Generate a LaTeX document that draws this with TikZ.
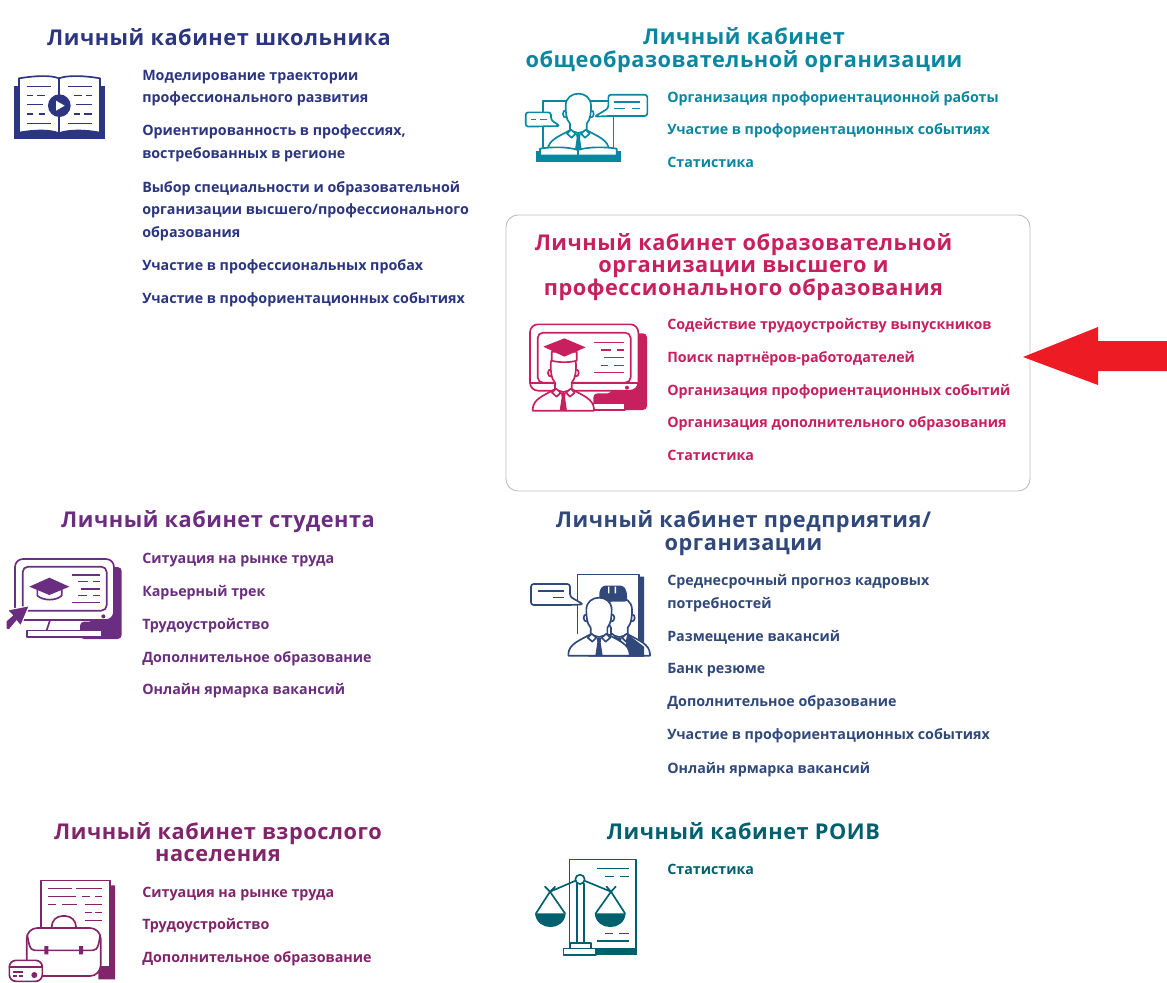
\documentclass[tikz,border=0pt]{standalone}
\usepackage{fontspec}
\setmainfont{Open Sans}[BoldFont={Open Sans Bold},ItalicFont={Open Sans Italic}]
\newfontfamily\titlefam{Open Sans}[BoldFont={Open Sans Bold},LetterSpace=2.5]
\definecolor{cnavy}{HTML}{2B3580}
\definecolor{cteal}{HTML}{0A87A0}
\definecolor{ccrim}{HTML}{C8205F}
\definecolor{cpurp}{HTML}{6B2D7F}
\definecolor{cslate}{HTML}{30497A}
\definecolor{cplum}{HTML}{82246A}
\definecolor{cdteal}{HTML}{00606E}
\definecolor{cred}{HTML}{ED1C24}
\tikzset{
  ttl/.style={align=center,inner sep=0pt,font=\titlefam\bfseries\fontsize{16.3}{16.7}\selectfont},
  itm/.style={anchor=west,align=left,inner sep=0pt,font=\bfseries\fontsize{10.7}{17}\selectfont},
  ln/.style={draw=ic,line width=1.25pt,line cap=round,line join=round},
  wf/.style={ln,fill=white},
  sf/.style={fill=ic,draw=none},
  txl/.style={draw=ic,line width=1.05pt},
  zoomed/.style={x=.25pt,y=-.25pt}
}
% person in zoom units, origin at the collar
\newcommand\personicon[2]{%
\begin{scope}[shift={(#1,#2)}]
 \path[wf] (-36,-64) .. controls (-50,-66) and (-50,-40) .. (-34,-42) -- (34,-42) .. controls (50,-40) and (50,-66) .. (36,-64) -- cycle;
 \path[wf] (-92,60) -- (-92,55) .. controls (-90,25) and (-60,15) .. (-24,-5) -- (24,-5) .. controls (60,15) and (90,25) .. (92,55) -- (92,60) -- cycle;
 \path[wf] (-25,-3) -- (-25,-24) .. controls (-37,-36) and (-38,-60) .. (-38,-78) .. controls (-38,-126) and (38,-126) .. (38,-78) .. controls (38,-60) and (37,-36) .. (25,-24) -- (25,-3) -- (0,4) -- cycle;
 \path[wf] (-22,-6) -- (-8,6) -- (-20,18) -- (-34,6) -- cycle;
 \path[wf] (22,-6) -- (8,6) -- (20,18) -- (34,6) -- cycle;
 \path[sf] (-7,6) -- (7,6) -- (5,20) -- (11,60) -- (-11,60) -- (-5,20) -- cycle;
\end{scope}}
\begin{document}
\begin{tikzpicture}[x=.75pt,y=-.75pt]
\useasboundingbox (0,0) rectangle (1167,982);
\fill[white] (0,0) rectangle (1167,982);
% framed panel and red arrow
\draw[draw=black!25,line width=.7pt,rounded corners=9pt] (506,215) rectangle (1030,491);
\fill[cred] (1023,357) -- (1098,327) -- (1098,341) -- (1167,341) -- (1167,371) -- (1098,371) -- (1098,385) -- cycle;

% ---- titles
\node[ttl,text=cnavy] (t1) at (219,37) {Личный кабинет школьника};
\node[ttl,text=cteal] (t2) at (744,50) {Личный кабинет\\общеобразовательной организации};
\node[ttl,text=ccrim] (t3) at (743.5,267) {Личный кабинет образовательной\\организации высшего и\\профессионального образования};
\node[ttl,text=cpurp] (t4) at (218,522) {Личный кабинет студента};
\node[ttl,text=cslate] (t5) at (743.5,533) {Личный кабинет предприятия/\\организации};
\node[ttl,text=cplum] (t6) at (218,842) {Личный кабинет взрослого\\населения};
\node[ttl,text=cdteal] (t7) at (743.5,831) {Личный кабинет РОИВ};

% ---- lists
\begin{scope}[every node/.append style={itm,text=cnavy}]
\node (a1) at (142,88) {Моделирование траектории\\профессионального развития};
\node (a2) at (142,143) {Ориентированность в профессиях,\\востребованных в регионе};
\node (a3) at (142,211) {Выбор специальности и образовательной\\организации высшего/профессионального\\образования};
\node (a4) at (142,267) {Участие в профессиональных пробах};
\node (a5) at (142,300) {Участие в профориентационных событиях};
\end{scope}
\begin{scope}[every node/.append style={itm,text=cteal}]
\node (b1) at (667,99) {Организация профориентационной работы};
\node (b2) at (667,131) {Участие в профориентационных событиях};
\node (b3) at (667,162) {Статистика};
\end{scope}
\begin{scope}[every node/.append style={itm,text=ccrim}]
\node (c1) at (667,326) {Содействие трудоустройству выпускников};
\node (c2) at (667,359) {Поиск партнёров-работодателей};
\node (c3) at (667,392) {Организация профориентационных событий};
\node (c4) at (667,424) {Организация дополнительного образования};
\node (c5) at (667,455) {Статистика};
\end{scope}
\begin{scope}[every node/.append style={itm,text=cpurp}]
\node (d1) at (142,560) {Ситуация на рынке труда};
\node (d2) at (142,593) {Карьерный трек};
\node (d3) at (142,626) {Трудоустройство};
\node (d4) at (142,659) {Дополнительное образование};
\node (d5) at (142,691) {Онлайн ярмарка вакансий};
\end{scope}
\begin{scope}[every node/.append style={itm,text=cslate}]
\node (e1) at (667,593) {Среднесрочный прогноз кадровых\\потребностей};
\node (e2) at (667,637) {Размещение вакансий};
\node (e3) at (667,670) {Банк резюме};
\node (e4) at (667,703) {Дополнительное образование};
\node (e5) at (667,736) {Участие в профориентационных событиях};
\node (e6) at (667,770) {Онлайн ярмарка вакансий};
\end{scope}
\begin{scope}[every node/.append style={itm,text=cplum}]
\node (f1) at (142,894) {Ситуация на рынке труда};
\node (f2) at (142,926) {Трудоустройство};
\node (f3) at (142,959) {Дополнительное образование};
\end{scope}
\node[itm,text=cdteal] (g1) at (667,869) {Статистика};

% ---- icon: book
\colorlet{ic}{cnavy}
\begin{scope}[shift={(0,60)},zoomed]
 \path[sf] (41,78) rectangle (316,238);
 \path[wf] (57,55) .. controls (100,48) and (150,44) .. (177,55) .. controls (205,44) and (260,48) .. (300,55) -- (300,218) .. controls (260,210) and (205,208) .. (177,220) .. controls (150,208) and (100,210) .. (57,218) -- cycle;
 \draw[ln] (177,55) -- (177,220);
 \foreach \a/\b/\c in {80/152/79,80/100/106,112/136/106,80/128/134,80/100/162,116/136/162,80/152/190,205/277/79,221/245/106,257/277/106,228/277/134,221/241/162,253/277/162,205/277/190}
   \draw[txl] (\a,\c) -- (\b,\c);
 \fill[ic] (178,137) circle[radius=34];
 \fill[white] (168,122) -- (168,152) -- (194,137) -- cycle;
\end{scope}

% ---- icon: teacher
\colorlet{ic}{cteal}
\begin{scope}[shift={(515,80)},zoomed]
 \draw[ln] (83,205) -- (83,63) -- (295,63) -- (295,205);
 \personicon{190}{155}
 \path[sf] (64,213) rectangle (318,247);
 \path[wf] (75,206) .. controls (110,200) and (160,200) .. (188,210) .. controls (220,200) and (270,200) .. (305,206) -- (305,226) -- (75,226) -- cycle;
 \draw[ln] (188,210) -- (188,226);
 \path[wf,rounded corners=2pt] (280,44) -- (397,44) -- (397,108) -- (280,108) -- (238,110) -- (280,85) -- cycle;
 \path[wf,rounded corners=2pt] (32,97) -- (108,97) -- (108,120) -- (135,138) -- (32,140) -- cycle;
 \draw[txl] (298,66) -- (376,66) (298,85) -- (330,85) (352,85) -- (376,85) (48,118) -- (62,118) (75,118) -- (97,118);
\end{scope}

% ---- icon: graduate monitor
\colorlet{ic}{ccrim}
\begin{scope}[shift={(515,310)},zoomed]
 \path[sf,rounded corners=3pt] (290,70) -- (396,70) -- (396,300) -- (235,300) -- (235,250) -- (290,250) -- cycle;
 \path[wf,rounded corners=6pt] (45,43) rectangle (370,242);
 \path[wf,rounded corners=4pt] (68,68) -- (347,68) -- (347,218) -- (68,218) -- cycle;
 \draw[ln] (45,218) -- (370,218);
 \fill[ic] (336,233) circle[radius=6];
 \path[wf] (235,280) rectangle (330,300);
 \foreach \a/\b/\c in {237/327/98,257/287/120,305/327/120,268/327/143,257/280/166,297/327/166,237/327/188}
   \draw[txl] (\a,\c) -- (\b,\c);
 \personicon{145}{242}
 \path[wf] (110,125) -- (110,152) .. controls (130,158) and (165,158) .. (185,152) -- (185,125) -- cycle;
 \path[sf] (85,110) -- (148,85) -- (212,112) -- (148,140) -- cycle;
\end{scope}

% ---- icon: student monitor
\colorlet{ic}{cpurp}
\begin{scope}[shift={(0,545)},zoomed]
 \path[sf,rounded corners=3pt] (280,66) -- (365,66) -- (365,282) -- (240,282) -- (240,230) -- (280,230) -- cycle;
 \path[wf,rounded corners=6pt] (45,42) rectangle (342,225);
 \path[wf,rounded corners=4pt] (68,65) rectangle (320,197);
 \fill[ic] (310,214) circle[radius=6];
 \draw[ln] (150,226) -- (140,256);
 \path[wf] (80,256) rectangle (305,276);
 \foreach \a/\b/\c in {217/300/90,235/265/110,280/300/110,243/300/132,235/262/152,280/300/152,217/300/173}
   \draw[txl] (\a,\c) -- (\b,\c);
 \path[wf] (112,132) -- (112,152) .. controls (130,168) and (168,168) .. (185,152) -- (185,132) -- cycle;
 \path[sf] (88,125) -- (148,98) -- (208,125) -- (148,150) -- cycle;
 \path[fill=ic,draw=white,line width=.8pt] (88,182) -- (22,195) -- (37,211) -- (18,228) -- (18,252) -- (27,255) -- (50,228) -- (62,243) -- cycle;
\end{scope}

% ---- icon: employer
\colorlet{ic}{cslate}
\begin{scope}[shift={(520,565)},zoomed]
 \path[sf] (357,35) -- (372,35) -- (372,275) -- (330,275) -- (330,230) -- (357,230) -- cycle;
 \path[wf] (172,205) -- (172,28) -- (357,28) -- (357,230);
 \personicon{298}{212}
 \path[sf] (322,207) -- (372,245) -- (372,275) -- (318,275) -- (318,225) -- cycle;
 \path[sf,rounded corners=2pt] (238,110) -- (238,78) -- (248,62) -- (310,62) -- (320,78) -- (322,110) -- cycle;
 \fill[white] (264,65) rectangle (268,85) (284,65) rectangle (288,85);
 \personicon{237}{212}
 \path[wf,rounded corners=2pt] (33,57) -- (150,57) -- (150,95) -- (190,118) -- (150,120) -- (33,120) -- cycle;
 \draw[txl] (55,78) -- (132,78) (98,97) -- (132,97);
\end{scope}

% ---- icon: briefcase
\colorlet{ic}{cplum}
\begin{scope}[shift={(0,872)},zoomed]
 \path[sf] (330,40) -- (345,40) -- (345,322) -- (295,322) -- (295,283) -- (330,283) -- cycle;
 \path[wf] (123,25) -- (330,25) -- (330,283) -- (123,283) -- cycle;
 \foreach \a/\b/\c in {145/216/50,228/305/50,145/228/73,246/270/73,285/305/73,145/168/97,185/232/97,254/305/97,254/275/121,285/305/121,254/305/145}
   \draw[txl] (\a,\c) -- (\b,\c);
 \path[wf,rounded corners=8pt] (155,170) -- (155,132) -- (228,132) -- (228,170);
 \path[wf,rounded corners=8pt] (80,168) -- (302,168) -- (302,312) -- (80,312) -- cycle;
 \draw[ln] (82,190) .. controls (90,240) and (95,235) .. (120,235) -- (265,235) .. controls (285,235) and (295,240) .. (300,190);
 \fill[ic] (133,222) rectangle (145,247) (237,222) rectangle (249,247);
 \path[wf,rounded corners=5pt] (28,265) rectangle (127,328);
 \draw[ln] (28,284) -- (127,284);
 \draw[txl] (40,300) -- (70,300) (40,312) -- (50,312) (58,312) -- (68,312);
 \fill[ic] (103,309) circle[radius=9];
\end{scope}

% ---- icon: scales
\colorlet{ic}{cdteal}
\begin{scope}[shift={(525,850)},zoomed]
 \path[sf] (215,297) rectangle (335,315);
 \path[sf] (325,40) rectangle (335,315);
 \path[wf] (133,28) -- (333,28) -- (333,297) -- (133,297) -- cycle;
 \foreach \a/\b/\c in {217/312/55,240/268/79,285/312/79,240/265/250,282/312/250,217/312/273}
   \draw[txl] (\a,\c) -- (\b,\c);
 \path[wf] (155,100) rectangle (177,278);
 \path[wf] (135,278) rectangle (197,295);
 \path[wf] (115,295) rectangle (212,315);
 \draw[ln] (60,110) -- (75,125) -- (90,110) (75,125) -- (152,92) (178,92) -- (258,125) -- (272,110) (258,125) -- (245,110);
 \path[wf] (165,88) circle[radius=14];
 \draw[ln] (33,190) -- (75,125) -- (120,190) (212,190) -- (258,125) -- (300,190);
 \fill[ic] (30,190) .. controls (35,245) and (118,245) .. (122,190) -- cycle;
 \fill[ic] (209,190) .. controls (214,245) and (298,245) .. (302,190) -- cycle;
\end{scope}
\end{tikzpicture}
\end{document}
